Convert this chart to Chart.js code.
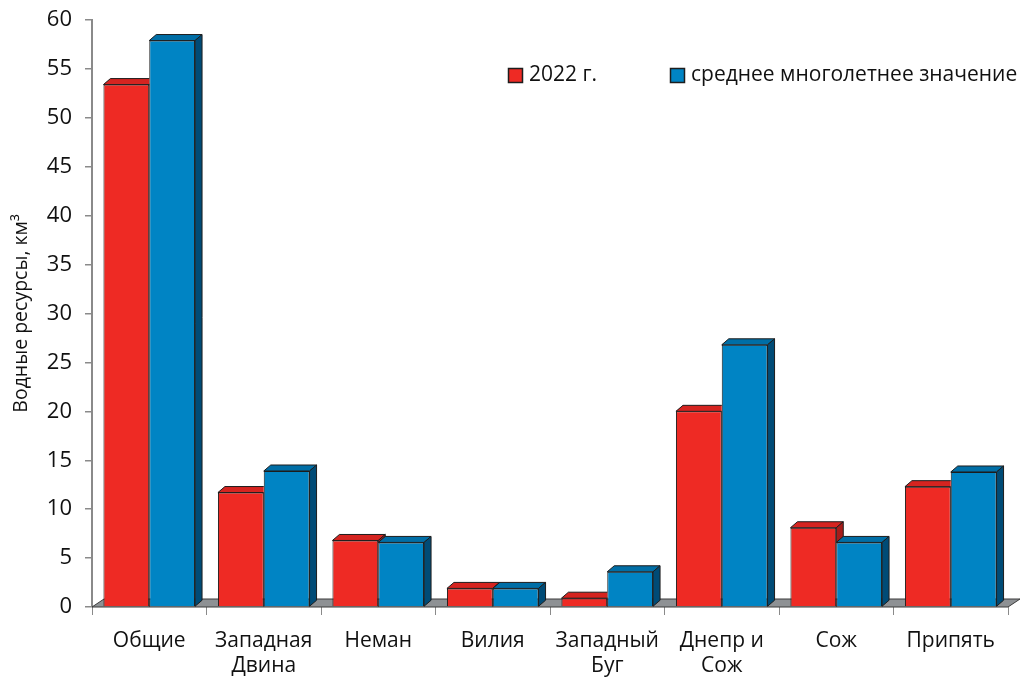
<!DOCTYPE html>
<html lang="ru">
<head>
<meta charset="utf-8">
<title>Водные ресурсы</title>
<script src="https://cdn.jsdelivr.net/npm/chart.js@4.4.1/dist/chart.umd.min.js"></script>
<style>
  html, body { margin: 0; padding: 0; background: #ffffff; }
  canvas { display: block; }
</style>
</head>
<body>
<canvas id="chart" width="1024" height="677"></canvas>
<script>
// River basins (multi-line labels are arrays)
const categories = [
  ['Общие'],
  ['Западная', 'Двина'],
  ['Неман'],
  ['Вилия'],
  ['Западный', 'Буг'],
  ['Днепр и', 'Сож'],
  ['Сож'],
  ['Припять']
];

// Water resources, km³
const values2022 = [53.4, 11.7, 6.8, 1.9, 0.9, 20.0, 8.1, 12.3];
const valuesLongTerm = [57.9, 13.9, 6.6, 1.9, 3.6, 26.8, 6.6, 13.8];

const seriesNames = ['2022 г.', 'среднее многолетнее значение'];
const yMin = 0;
const yMax = 60;
const yStep = 5;

const FONT = '"Open Sans", "Noto Sans", sans-serif';
const TEXT = '#111111';

// front / top / side shades of each series
const shades = [
  { front: '#ee2a24', top: '#d52420', side: '#a81c1a' },
  { front: '#0084c4', top: '#006ea6', side: '#004b76' }
];
const EDGE = '#1d1d1d';
const DEPTH = { dx: 7, dy: 6 };
const FLOOR = { dx: 12, dy: 8, fill: '#8e9194' };

function drawFaces(ctx, bar, shade) {
  const p = bar.getProps(['x', 'y', 'base', 'width'], true);
  const L = p.x - p.width / 2;
  const R = p.x + p.width / 2;
  const top = p.y;
  const base = p.base;
  ctx.lineWidth = 1;
  ctx.strokeStyle = EDGE;
  ctx.lineJoin = 'round';
  // top face
  ctx.beginPath();
  ctx.moveTo(L, top);
  ctx.lineTo(L + DEPTH.dx, top - DEPTH.dy);
  ctx.lineTo(R + DEPTH.dx, top - DEPTH.dy);
  ctx.lineTo(R, top);
  ctx.closePath();
  ctx.fillStyle = shade.top;
  ctx.fill();
  ctx.stroke();
  // right side face
  ctx.beginPath();
  ctx.moveTo(R, top);
  ctx.lineTo(R + DEPTH.dx, top - DEPTH.dy);
  ctx.lineTo(R + DEPTH.dx, base - DEPTH.dy);
  ctx.lineTo(R, base);
  ctx.closePath();
  ctx.fillStyle = shade.side;
  ctx.fill();
  ctx.stroke();
}

const extrudedBars = {
  id: 'extrudedBars',
  beforeDatasetsDraw(chart) {
    // grey floor under the bars
    const { ctx, chartArea: a } = chart;
    ctx.save();
    ctx.beginPath();
    ctx.moveTo(a.left, a.bottom);
    ctx.lineTo(a.right, a.bottom);
    ctx.lineTo(a.right + FLOOR.dx, a.bottom - FLOOR.dy);
    ctx.lineTo(a.left + FLOOR.dx, a.bottom - FLOOR.dy);
    ctx.closePath();
    ctx.fillStyle = FLOOR.fill;
    ctx.fill();
    ctx.lineWidth = 1;
    ctx.strokeStyle = '#3a3a3a';
    ctx.stroke();
    ctx.restore();
  },
  afterDatasetsDraw(chart) {
    const ctx = chart.ctx;
    const first = chart.getDatasetMeta(0).data;
    const second = chart.getDatasetMeta(1).data;
    first.forEach((bar, i) => {
      const neighbour = second[i];
      const n = neighbour.getProps(['x', 'y', 'base', 'width'], true);
      ctx.save();
      // keep the first bar's faces behind the neighbour's front face
      ctx.beginPath();
      ctx.rect(0, 0, chart.width, chart.height);
      ctx.rect(n.x - n.width / 2, n.y, n.width, n.base - n.y);
      ctx.clip('evenodd');
      drawFaces(ctx, bar, shades[0]);
      ctx.restore();
      ctx.save();
      drawFaces(ctx, neighbour, shades[1]);
      ctx.restore();
    });
  }
};

const seriesKey = {
  id: 'seriesKey',
  afterDraw(chart) {
    const ctx = chart.ctx;
    const items = [
      { x: 508, y: 68 },
      { x: 670, y: 68 }
    ];
    ctx.save();
    ctx.font = '21px ' + FONT;
    ctx.textBaseline = 'middle';
    ctx.textAlign = 'left';
    chart.data.datasets.forEach((ds, i) => {
      const it = items[i];
      ctx.fillStyle = ds.backgroundColor;
      ctx.fillRect(it.x, it.y, 15, 15);
      ctx.lineWidth = 1.5;
      ctx.strokeStyle = EDGE;
      ctx.strokeRect(it.x + 0.5, it.y + 0.5, 14, 14);
      ctx.fillStyle = TEXT;
      ctx.fillText(ds.label, it.x + 21, it.y + 7.5);
    });
    ctx.restore();
  }
};

new Chart(document.getElementById('chart'), {
  type: 'bar',
  data: {
    labels: categories,
    datasets: [
      {
        label: seriesNames[0],
        data: values2022,
        backgroundColor: shades[0].front,
        borderColor: EDGE,
        borderWidth: 1
      },
      {
        label: seriesNames[1],
        data: valuesLongTerm,
        backgroundColor: shades[1].front,
        borderColor: EDGE,
        borderWidth: 1
      }
    ]
  },
  options: {
    responsive: false,
    animation: false,
    events: [],
    categoryPercentage: 0.8,
    barPercentage: 1.0,
    layout: { padding: { left: 0, right: 16, top: 20, bottom: 0 } },
    plugins: {
      legend: { display: false },
      tooltip: { enabled: false }
    },
    scales: {
      x: {
        grid: {
          offset: true,
          drawOnChartArea: false,
          tickLength: 8,
          color: '#8a8a8a',
          lineWidth: 1
        },
        border: { display: false },
        ticks: {
          color: TEXT,
          font: { family: FONT, size: 21 },
          padding: 13,
          maxRotation: 0,
          autoSkip: false
        },
        afterFit(scale) { scale.height = 70; }
      },
      y: {
        min: yMin,
        max: yMax,
        grid: {
          drawOnChartArea: false,
          tickLength: 7,
          color: '#8a8a8a',
          lineWidth: 1.5
        },
        border: { color: '#8a8a8a', width: 2 },
        ticks: {
          stepSize: yStep,
          color: TEXT,
          font: { family: FONT, size: 22 },
          padding: 13
        },
        title: {
          display: true,
          text: 'Водные ресурсы, км³',
          color: TEXT,
          font: { family: FONT, size: 19.5 },
          padding: { top: 10, bottom: 0 }
        },
        afterFit(scale) {
          scale.width = 92;
          scale.paddingTop = 0;
          scale.paddingBottom = 0;
        }
      }
    }
  },
  plugins: [extrudedBars, seriesKey]
});
</script>
</body>
</html>
